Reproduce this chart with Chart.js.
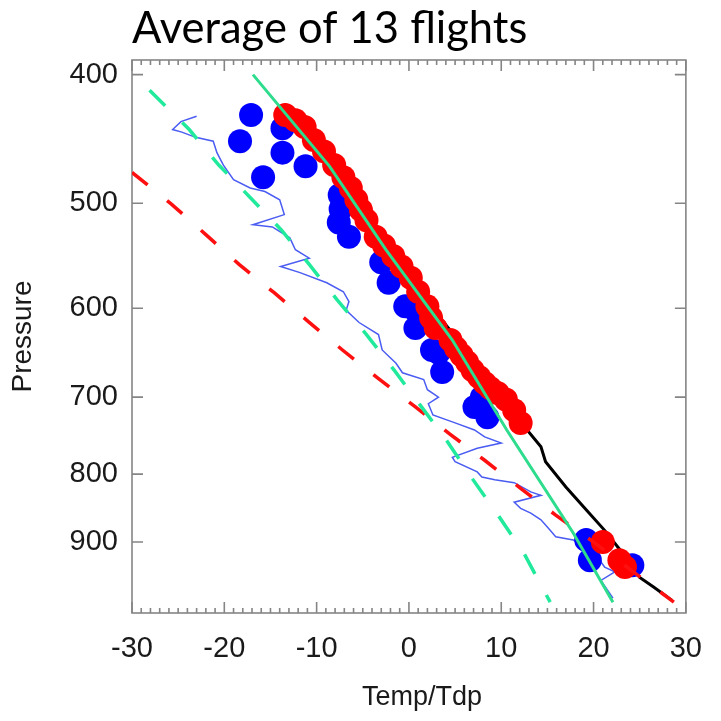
<!DOCTYPE html>
<html>
<head>
<meta charset="utf-8">
<script src="https://cdn.jsdelivr.net/npm/chart.js@4.4.1/dist/chart.umd.min.js"></script>
<style>
  html, body { margin: 0; padding: 0; background: #fff; }
</style>
</head>
<body>
<canvas id="soundingChart" width="721" height="721"></canvas>
<script>
// axis ticks
var xTicks = [-30, -20, -10, 0, 10, 20, 30];
var yTicks = [400, 500, 600, 700, 800, 900];

// red dots (temperature, individual levels)
var tempDotT = [-13.4, -12.3, -11.3, -10.3, -9.2, -8.1, -7.1, -6.3, -5.7, -5.2, -4.6, -3.6, -2.7, -1.7, -0.8, 0.2, 1.0, 2.0, 2.4, 2.9, 4.5, 5.1, 5.7, 6.3, 6.9, 7.6, 8.2, 8.8, 9.6, 10.5, 11.4, 12.1, 21.0, 22.8, 23.4];
var tempDotP = [429, 433, 438, 448, 457, 468, 478, 487, 497, 506, 515, 530, 538, 548, 558, 569, 583, 598, 610, 621, 634, 643, 651, 659, 668, 676, 683, 689, 695, 703, 716, 732, 900, 929, 940];

// blue dots (dew point, individual levels)
var dewDotT = [-17.1, -18.3, -13.7, -13.7, -15.8, -11.2, -7.5, -7.4, -7.6, -6.5, -3.0, -2.2, -0.4, 0.7, 0.7, 2.5, 3.2, 3.6, 7.1, 7.9, 8.5, 19.2, 19.6, 24.2];
var dewDotP = [429, 449, 439, 458, 478, 469, 493, 505, 517, 530, 554, 574, 598, 602, 621, 645, 648, 670, 712, 700, 725, 897, 929, 937];

// black line (average temperature)
var tempLineT = [-13.7, -11.0, -7.8, -4.6, -1.4, 1.8, 4.2, 7.9, 11.4, 12.8, 14.3, 14.8, 17.0, 19.2, 21.2, 22.9, 25.0, 26.5, 28.5];
var tempLineP = [427, 440, 468, 507, 554, 591, 620, 664, 707, 741, 763, 783, 818, 851, 882, 913, 957, 973, 996];

// thin blue line (average dew point)
var dewLineT = [-23.0, -24.7, -25.6, -24.6, -23.1, -21.2, -20.8, -20.1, -19.0, -17.2, -15.6, -14.0, -13.5, -16.9, -14.8, -12.9, -12.3, -10.8, -13.9, -11.8, -8.9, -7.1, -6.5, -6.8, -5.4, -3.3, -2.9, -1.4, -0.7, 1.6, 2.0, 3.2, 2.1, 2.6, 5.0, 7.1, 8.2, 10.0, 7.4, 4.7, 5.0, 7.4, 7.9, 9.3, 11.4, 13.2, 14.3, 11.4, 12.1, 13.2, 14.3, 15.3, 15.9, 17.8, 19.9, 21.2, 22.3, 20.8, 22.1];
var dewLineP = [430, 434, 440, 442, 446, 449, 458, 468, 480, 487, 490, 497, 510, 519, 521, 531, 542, 550, 558, 564, 574, 583, 593, 602, 615, 628, 645, 660, 671, 679, 691, 700, 708, 722, 732, 741, 750, 758, 765, 777, 783, 797, 804, 808, 812, 825, 830, 840, 849, 856, 866, 882, 892, 897, 913, 940, 948, 962, 992];

// red dashed (dry adiabat)
var dryT = [-30.0, -25.7, -22.0, -18.4, -14.6, -10.9, -7.2, -3.4, 0.7, 4.4, 8.2, 12.1, 15.9, 19.9, 28.7];
var dryP = [474, 501, 528, 556, 584, 614, 645, 677, 712, 746, 781, 820, 859, 899, 999];

// green dashed (moist adiabat)
var moistDashT = [-28.1, -23.8, -20.6, -17.2, -13.8, -10.8, -7.8, -4.6, -1.6, 1.3, 4.1, 6.9, 9.8, 12.5, 15.3];
var moistDashP = [411, 440, 468, 495, 524, 556, 591, 628, 668, 711, 755, 807, 862, 919, 999];

// green solid (moist adiabat)
var moistT = [-16.9, -8.6, -2.5, 4.7, 10.6, 17.8, 22.1];
var moistP = [400, 469, 542, 634, 741, 886, 999];

function pts(xs, ys) {
  return xs.map(function (v, i) { return { x: v, y: ys[i] }; });
}

var labelFont = { family: 'Liberation Sans', size: 29 };

// box with inward ticks on all four sides
var frameTicks = {
  id: 'frameTicks',
  beforeDatasetsDraw: function (chart) {
    var ctx = chart.ctx, a = chart.chartArea;
    var xs = chart.scales.x, ys = chart.scales.y;
    ctx.save();
    ctx.strokeStyle = '#858585';
    ctx.lineWidth = 1.6;
    ctx.strokeRect(a.left, a.top, a.right - a.left, a.bottom - a.top);
    ctx.beginPath();
    for (var v = xTicks[0]; v <= xTicks[xTicks.length - 1]; v++) {
      var px = xs.getPixelForValue(v);
      var len = (v % 10 === 0) ? 11 : 5;
      ctx.moveTo(px, a.bottom); ctx.lineTo(px, a.bottom - len);
      ctx.moveTo(px, a.top); ctx.lineTo(px, a.top + len);
    }
    yTicks.forEach(function (t) {
      var py = ys.getPixelForValue(t);
      ctx.moveTo(a.left, py); ctx.lineTo(a.left + 11, py);
      ctx.moveTo(a.right, py); ctx.lineTo(a.right - 11, py);
    });
    ctx.stroke();
    ctx.restore();
  },
  afterDraw: function (chart) {
    var ctx = chart.ctx, a = chart.chartArea;
    ctx.save();
    ctx.fillStyle = '#1a1a1a';
    ctx.font = '27px "Liberation Sans"';
    ctx.textAlign = 'center';
    ctx.textBaseline = 'middle';
    ctx.fillText('Temp/Tdp', (a.left + a.right) / 2 + 13, 698);
    ctx.restore();
  }
};

new Chart('soundingChart', {
  type: 'scatter',
  data: {
    datasets: [
      { data: pts(moistT, moistP), showLine: true, borderColor: '#2ddc8c', borderWidth: 3, pointRadius: 0 },
      { data: pts(moistDashT, moistDashP), showLine: true, borderColor: '#22ea9c', borderWidth: 3.5, borderDash: [22, 24], pointRadius: 0 },
      { data: pts(dryT, dryP), showLine: true, borderColor: '#ff1010', borderWidth: 3.5, borderDash: [20, 25], pointRadius: 0 },
      { data: pts(tempDotT, tempDotP), backgroundColor: '#ff0000', borderWidth: 0, pointRadius: 12 },
      { data: pts(dewDotT, dewDotP), backgroundColor: '#0000ff', borderWidth: 0, pointRadius: 12 },
      { data: pts(tempLineT, tempLineP), showLine: true, borderColor: '#000', borderWidth: 3, pointRadius: 0 },
      { data: pts(dewLineT, dewLineP), showLine: true, borderColor: '#4a5cf2', borderWidth: 1.5, pointRadius: 0 }
    ]
  },
  options: {
    responsive: false,
    animation: false,
    layout: { padding: { left: 0, right: 27, top: 0, bottom: 0 } },
    plugins: {
      legend: { display: false },
      tooltip: { enabled: false },
      title: {
        display: true,
        text: 'Average of 13 flights',
        align: 'start',
        fullSize: false,
        color: '#000',
        font: { family: 'Lato', size: 43.5, weight: 'normal', lineHeight: 1 },
        padding: { top: 7, bottom: 9.5 }
      }
    },
    scales: {
      x: {
        type: 'linear',
        min: -30,
        max: 30,
        afterBuildTicks: function (s) { s.ticks = xTicks.map(function (v) { return { value: v }; }); },
        afterFit: function (s) { s.height = 108; },
        grid: { display: false, drawTicks: false },
        border: { display: false },
        ticks: { font: labelFont, color: '#1a1a1a', padding: 19, maxRotation: 0, autoSkip: false }
      },
      y: {
        type: 'logarithmic',
        reverse: true,
        min: 390,
        max: 1018,
        afterBuildTicks: function (s) { s.ticks = yTicks.map(function (v) { return { value: v }; }); },
        afterFit: function (s) { s.width = 132; },
        grid: { display: false, drawTicks: false },
        border: { display: false },
        ticks: {
          font: labelFont, color: '#1a1a1a', padding: 14, autoSkip: false,
          callback: function (v) { return String(v); }
        },
        title: {
          display: true,
          text: 'Pressure',
          color: '#1a1a1a',
          font: { family: 'Liberation Sans', size: 28 },
          padding: { top: 6, bottom: 0 }
        }
      }
    }
  },
  plugins: [frameTicks]
});
</script>
</body>
</html>
